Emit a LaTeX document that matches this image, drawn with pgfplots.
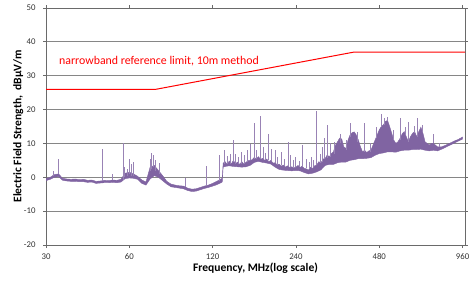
\documentclass[border=0pt]{standalone}
\usepackage{fontspec}
\setmainfont{Carlito}
\usepackage{pgfplots}
\pgfplotsset{compat=1.18}
\definecolor{trace}{HTML}{8064A2}
\definecolor{gridc}{HTML}{868686}
\definecolor{axc}{HTML}{6A6A6A}
\begin{document}
\begin{tikzpicture}
\useasboundingbox (-46bp,-37bp) rectangle (425bp,245bp);
\begin{axis}[
  at={(0,0)}, anchor=south west,
  scale only axis, width=419bp, height=237bp,
  xmode=log, log basis x=2,
  xmin=30, xmax=980, ymin=-20, ymax=50,
  ytick={-20,-10,...,50},
  xtick={30,60,120,240,480,960},
  xticklabels={30,60,120,240,480,960},
  minor xtick={},
  ymajorgrids, grid style={gridc, line width=0.75bp},
  axis line style={axc, line width=0.75bp},
  tick align=outside, major tick length=3bp,
  tick style={axc, line width=0.75bp},
  ticklabel style={font=\fontsize{8.8}{10}\selectfont, text=black!80},
  yticklabel style={xshift=-4bp},
  xticklabel style={yshift=-2bp},
  /pgf/number format/assume math mode=true,
  xlabel={Frequency, MHz(log scale)},
  ylabel={Electric Field Strength,\ \ dBµV/m},
  label style={font=\bfseries\fontsize{11.6}{13}\selectfont},
  xlabel style={at={(axis description cs:0.5,-0.097)}, anchor=center},
  ylabel style={at={(axis description cs:-0.066,0.5)}, anchor=center},
  unbounded coords=jump,
]
% measured trace: upper envelope then lower envelope (filled band)
\addplot[draw=trace, fill=trace, line width=0.4bp] coordinates {
(30.0,-0.4) (31.06,0.0) (32.15,0.8) (33.29,1.0) (34.46,-0.3) (35.68,-0.5) (36.93,-0.6) (38.24,-0.5) (39.59,-0.7) (40.98,-0.6) (42.43,-0.9) (43.92,-0.8) (45.47,-1.2) (47.08,-1.1) (48.74,-0.9) (50.45,-1.0) (52.23,-0.8) (54.08,-0.9) (55.98,-0.6) (57.96,1.2) (60,1.5) (62.12,1.0) (64.31,0.3) (66.58,-0.8) (68.92,-1.4) (71.35,3.0) (73.87,3.5) (76.48,2.0) (79.17,0.5) (81.96,-1.2) (84.85,-2.0) (87.85,-2.3) (90.94,-2.5) (94.15,-2.6) (97.47,-3.2) (100.9,-3.5) (104.5,-3.4) (108.2,-3.0) (112.0,-2.6) (115.9,-2.3) (120,-1.8) (124.2,-1.2) (128.6,-0.5) (130,-0.3)
(131,4.2) (133.2,4.6) (135.5,3.8) (137.8,4.8) (140.2,4.0) (142.7,5.0) (145.2,4.0) (147.7,4.5) (150.3,3.8) (153.0,4.6) (155.6,3.9) (158.3,4.4) (161.1,4.9) (163.9,5.0) (166.8,5.2) (169.7,5.9) (172.7,5.4) (175.7,6.1) (178.8,5.3) (181.9,5.6) (185.1,5.0) (188.3,5.4) (191.6,4.6) (194.9,5.0) (198.3,4.2) (201.8,4.3) (205.3,3.7) (208.9,3.9) (212.6,3.3) (216.3,3.6) (220.1,3.0) (223.9,3.4) (227.8,2.9) (231.8,3.1)
(236.0,2.8) (240,3.0) (244.2,3.5) (248.5,2.9) (252.8,3.3) (257.2,2.6) (261.7,2.5) (266.3,2.1) (271.0,3.0) (275.7,2.6) (280.5,3.4) (285.4,3.6) (290.4,4.6) (295.5,4.2) (300.7,5.4) (305.9,5.5) (311.3,6.6) (316.7,6.0) (322.2,7.0) (327.8,7.5) (333.5,9.5) (339.4,10.5) (345.3,11.6) (351.4,11.3) (357.5,9.0) (363.8,8.5) (370.2,11.0) (376.6,12.5) (383.2,13.2) (389.9,13.4) (396.7,12.5) (403.6,11.0) (410.7,9.0) (417.9,7.5) (425.2,8.0) (432.6,7.3) (440.2,7.8) (447.9,8.0) (455.7,9.5) (463.7,11.0) (471.8,12.5) (480,14.0) (488.4,15.0) (496.9,15.5) (505.6,16.5) (514.5,16.8) (523.5,15.0) (532.6,13.0) (541.9,11.0) (551.4,10.0) (561.0,10.5) (570.8,11.5) (580.8,12.8) (590.9,13.5) (601.2,12.0) (611.8,10.5) (622.5,12.0) (633.4,13.0) (644.5,13.5) (655.7,12.0) (667.2,13.5) (678.8,14.8) (690.7,13.0) (702.8,10.5) (715.1,10.0) (727.5,9.5) (740.2,10.0) (753.2,10.0) (766.4,9.5) (779.8,9.0) (793.4,9.0) (807.3,9.0) (835.7,9.5) (865.2,10.1) (895.7,10.7) (927.3,11.2) (960,11.9)
(960,11.3) (927.3,10.7) (895.7,10.1) (865.2,9.5) (835.7,8.9) (807.3,8.3) (779.8,7.8) (753.2,8.0) (727.5,7.8) (702.8,8.0) (678.8,8.3) (655.7,8.2) (633.4,8.2) (611.8,8.0) (590.9,8.0) (570.8,7.8) (551.4,7.4) (532.6,7.5) (514.5,7.5) (496.9,7.2) (480,7.0) (463.7,6.5) (447.9,5.8) (432.6,5.6) (417.9,5.5) (403.6,5.5) (389.9,5.2) (376.6,5.0) (363.8,4.5) (351.4,4.5) (339.4,4.3) (327.8,3.8) (316.7,3.8) (305.9,3.5) (295.5,2.2) (285.4,1.6) (275.7,1.2) (266.3,1.0) (257.2,1.4) (248.5,1.9) (240,2.0) (231.8,1.9) (223.9,2.0) (216.3,2.1) (208.9,2.3) (201.8,3.0) (194.9,3.9) (188.3,4.2) (181.9,4.4) (175.7,4.7) (169.7,4.4) (163.9,3.5) (158.3,3.1) (153.0,3.0) (147.7,3.1) (142.7,3.2) (137.8,3.4) (133.2,3.2) (131,3.0)
(130,-1.4) (128.6,-1.6) (124.2,-2.2) (120,-2.6) (115.9,-3.0) (112.0,-3.3) (108.2,-3.7) (104.5,-4.1) (100.9,-4.2) (97.47,-3.9) (94.15,-3.4) (90.94,-3.2) (87.85,-3.0) (84.85,-2.8) (81.96,-2.0) (79.17,-1.0) (76.48,0.0) (73.87,0.5) (71.35,-0.5) (68.92,-2.3) (66.58,-1.8) (64.31,-0.6) (62.12,-0.3) (60,-0.2) (57.96,-0.4) (55.98,-1.4) (54.08,-1.6) (52.23,-1.5) (50.45,-1.6) (48.74,-1.6) (47.08,-1.7) (45.47,-1.8) (43.92,-1.4) (42.43,-1.5) (40.98,-1.3) (39.59,-1.3) (38.24,-1.2) (36.93,-1.2) (35.68,-1.1) (34.46,-0.9) (33.29,0.2) (32.15,0.0) (31.06,-0.6) (30.0,-1.0)
};
% narrow spikes
\addplot[draw=trace!80, line width=0.5bp] coordinates {
(31.8,0.5) (31.8,2.0) (31.8,nan)
(33.3,1.0) (33.3,5.3) (33.3,nan)
(47.8,-1.0) (47.8,8.4) (47.8,nan)
(52.0,-0.9) (52.0,1.0) (52.0,nan)
(56.9,-0.7) (56.9,10.0) (56.9,nan)
(57.5,0.0) (57.5,3.0) (57.5,nan)
(58.8,0.5) (58.8,2.5) (58.8,nan)
(60.0,1.0) (60.0,5.5) (60.0,nan)
(61.0,0.5) (61.0,4.0) (61.0,nan)
(61.9,0.5) (61.9,4.5) (61.9,nan)
(71.6,2.0) (71.6,5.5) (71.6,nan)
(72.3,2.5) (72.3,7.3) (72.3,nan)
(73.2,3.0) (73.2,6.5) (73.2,nan)
(74.5,2.0) (74.5,5.0) (74.5,nan)
(76.9,1.0) (76.9,4.2) (76.9,nan)
(95.9,-2.8) (95.9,-0.2) (95.9,nan)
(114.0,-2.6) (114.0,3.3) (114.0,nan)
(126.6,-1.0) (126.6,6.7) (126.6,nan)
(132.0,4.0) (132.0,8.0) (132.0,nan)
(136.0,3.8) (136.0,6.2) (136.0,nan)
(139.0,4.0) (139.0,6.8) (139.0,nan)
(142.2,4.5) (142.2,11.0) (142.2,nan)
(145.0,4.0) (145.0,7.0) (145.0,nan)
(149.0,4.0) (149.0,6.0) (149.0,nan)
(152.0,4.0) (152.0,7.5) (152.0,nan)
(156.0,4.0) (156.0,6.5) (156.0,nan)
(159.8,4.5) (159.8,8.0) (159.8,nan)
(164.6,5.0) (164.6,9.7) (164.6,nan)
(169.4,5.5) (169.4,16.0) (169.4,nan)
(173.0,5.5) (173.0,8.0) (173.0,nan)
(178.0,5.5) (178.0,18.0) (178.0,nan)
(183.0,5.5) (183.0,9.0) (183.0,nan)
(186.0,5.2) (186.0,7.2) (186.0,nan)
(190.0,5.0) (190.0,12.8) (190.0,nan)
(196.0,4.8) (196.0,8.5) (196.0,nan)
(201.6,4.3) (201.6,8.0) (201.6,nan)
(206.0,3.8) (206.0,6.0) (206.0,nan)
(212.0,3.5) (212.0,7.5) (212.0,nan)
(218.0,3.3) (218.0,5.5) (218.0,nan)
(224.7,3.3) (224.7,10.4) (224.7,nan)
(229.0,3.0) (229.0,6.5) (229.0,nan)
(234.0,3.0) (234.0,5.0) (234.0,nan)
(238.0,3.0) (238.0,6.0) (238.0,nan)
(246.0,3.0) (246.0,4.8) (246.0,nan)
(254.0,3.0) (254.0,9.5) (254.0,nan)
(262.0,2.6) (262.0,5.5) (262.0,nan)
(268.0,2.4) (268.0,4.5) (268.0,nan)
(272.0,2.8) (272.0,6.0) (272.0,nan)
(278.0,3.0) (278.0,5.0) (278.0,nan)
(285.4,3.6) (285.4,19.7) (285.4,nan)
(293.0,4.4) (293.0,7.0) (293.0,nan)
(300.0,4.5) (300.0,9.0) (300.0,nan)
(303.0,5.5) (303.0,11.7) (303.0,nan)
(310.8,5.8) (310.8,15.5) (310.8,nan)
(320.0,6.0) (320.0,10.0) (320.0,nan)
(330.0,7.0) (330.0,10.5) (330.0,nan)
(348.0,10.0) (348.0,12.8) (348.0,nan)
(366.0,8.0) (366.0,11.0) (366.0,nan)
(376.5,12.0) (376.5,16.0) (376.5,nan)
(400.0,10.5) (400.0,13.5) (400.0,nan)
(422.8,7.5) (422.8,16.0) (422.8,nan)
(445.0,7.5) (445.0,10.0) (445.0,nan)
(470.0,11.5) (470.0,14.8) (470.0,nan)
(490.0,15.0) (490.0,18.6) (490.0,nan)
(500.0,15.5) (500.0,17.5) (500.0,nan)
(512.0,16.5) (512.0,17.8) (512.0,nan)
(540.0,11.0) (540.0,14.0) (540.0,nan)
(570.0,11.0) (570.0,17.5) (570.0,nan)
(595.0,12.5) (595.0,15.0) (595.0,nan)
(611.0,10.5) (611.0,16.2) (611.0,nan)
(640.0,13.0) (640.0,15.2) (640.0,nan)
(658.0,12.0) (658.0,17.5) (658.0,nan)
(685.0,13.5) (685.0,15.5) (685.0,nan)
(752.0,10.0) (752.0,12.7) (752.0,nan)
(790.0,8.8) (790.0,10.2) (790.0,nan)
};
% limit line
\addplot[draw=red, line width=1bp] coordinates {(30,26) (75,26) (390,37) (980,37)};
\node[anchor=west, text=red, font=\fontsize{11.9}{13}\selectfont, inner sep=0pt] at (axis cs:33.4,34.3) {narrowband reference limit, 10m method};
\end{axis}
\end{tikzpicture}
\end{document}
